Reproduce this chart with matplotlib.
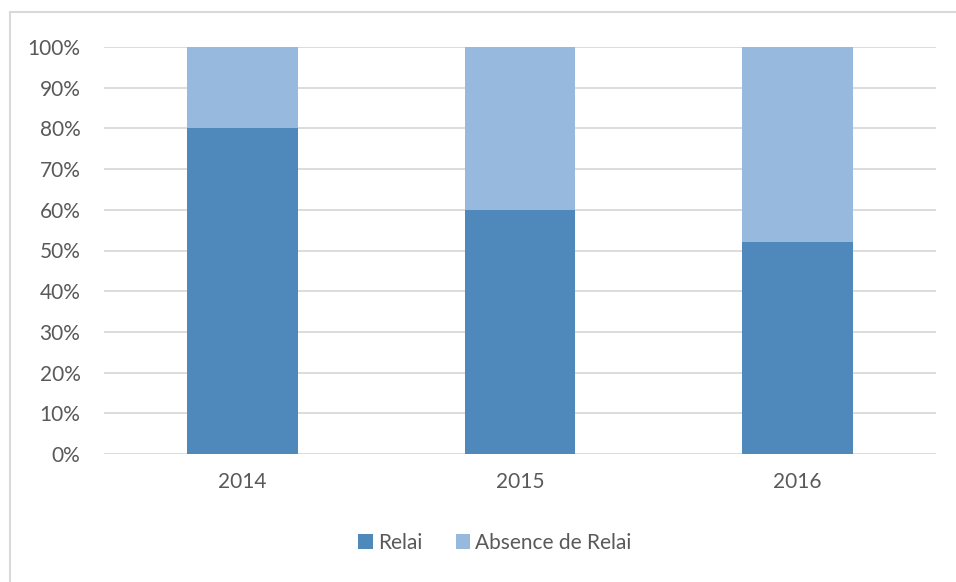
import matplotlib
matplotlib.use("Agg")
import matplotlib.pyplot as plt
from matplotlib.lines import Line2D
from matplotlib.ticker import FuncFormatter, MultipleLocator

years = ["2014", "2015", "2016"]
relai = [80, 60, 52]
absence = [20, 40, 48]
series_names = ["Relai", "Absence de Relai"]

c_relai = "#4f89bc"
c_abs = "#98b9de"
text_c = "#595959"
grid_c = "#d9d9d9"

plt.rcParams["font.family"] = ["Lato", "DejaVu Sans"]

W, H = 956, 582
fig = plt.figure(figsize=(W / 100, H / 100), dpi=100)
ax = fig.add_axes([104 / W, 1 - 454 / H, (936 - 104) / W, (454 - 47) / H])

x = range(len(years))
ax.bar(x, relai, width=0.4, color=c_relai, label=series_names[0], zorder=3)
ax.bar(x, absence, width=0.4, bottom=relai, color=c_abs, label=series_names[1], zorder=3)

ax.set_xlim(-0.5, 2.5)
ax.set_ylim(0, 100)
ax.yaxis.set_major_locator(MultipleLocator(10))
ax.yaxis.set_major_formatter(FuncFormatter(lambda v, p: f"{int(v)}%"))
ax.set_xticks(list(x))
ax.set_xticklabels(years)
ax.grid(axis="y", color=grid_c, linewidth=1.3, zorder=0)
for s in ax.spines.values():
    s.set_visible(False)
ax.tick_params(axis="both", length=0, colors=text_c, labelsize=15)
ax.tick_params(axis="y", pad=17)
ax.tick_params(axis="x", pad=13)

leg = fig.legend(loc="center", bbox_to_anchor=(495 / W, 1 - 543 / H), ncol=2,
                 frameon=False, fontsize=15, handlelength=0.7, handleheight=0.7,
                 handletextpad=0.25, columnspacing=1.6)
for t in leg.get_texts():
    t.set_color(text_c)

# outer chart border (top and left visible)
fig.add_artist(Line2D([10 / W, 1], [1 - 12 / H, 1 - 12 / H], color=grid_c, linewidth=1.5))
fig.add_artist(Line2D([10 / W, 10 / W], [0, 1 - 12 / H], color=grid_c, linewidth=1.5))

fig.savefig("out.png", dpi=100)
